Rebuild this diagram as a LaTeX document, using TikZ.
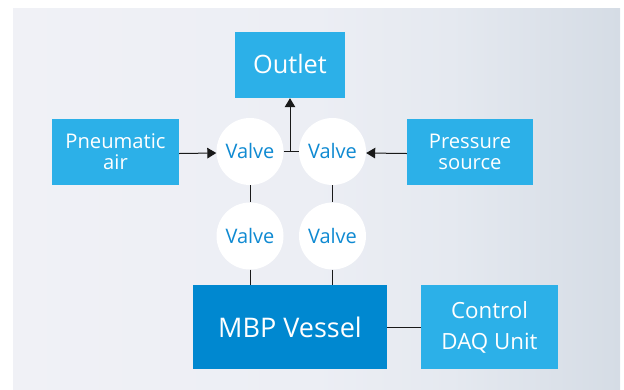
\documentclass[tikz,border=0pt]{standalone}
\usepackage{fontspec}
\setmainfont{Open Sans}
\definecolor{boxblue}{HTML}{2CB0E8}
\definecolor{deepblue}{HTML}{0088D0}
\definecolor{valvetext}{HTML}{0F8AD2}
\usetikzlibrary{arrows.meta}
\pgfdeclarehorizontalshading{panelshade}{100bp}{
  rgb(0bp)=(0.941,0.945,0.965);
  rgb(25bp)=(0.941,0.945,0.965);
  rgb(50bp)=(0.925,0.933,0.957);
  rgb(61bp)=(0.898,0.914,0.941);
  rgb(75bp)=(0.835,0.863,0.898);
  rgb(100bp)=(0.835,0.863,0.898)}
\tikzset{
  lightbox/.style={rectangle,fill=boxblue,text=white,inner sep=0pt,align=center},
  valvenode/.style={circle,fill=white,text=valvetext,minimum size=67pt,inner sep=0pt,font=\fontsize{20}{22}\selectfont},
  link/.style={line width=1pt,draw=black!90},
  flow/.style={link,-{Triangle[length=9pt,width=10.5pt]}}
}
\begin{document}
\begin{tikzpicture}[x=1pt,y=-1pt]
\useasboundingbox (0,0) rectangle (624,389);
\shade[shading=panelshade] (13,8) rectangle (620,389);
\node[lightbox,minimum width=110pt,minimum height=66pt,font=\fontsize{25.3}{29}\selectfont] (outlet) at (290,65) {\raisebox{1.5pt}{Outlet}};
\node[lightbox,minimum width=127pt,minimum height=66pt,font=\fontsize{20.2}{21}\selectfont] (pneu) at (115.5,152) {Pneumatic\\air};
\node[lightbox,minimum width=126pt,minimum height=66pt,font=\fontsize{20.2}{21}\selectfont] (press) at (470,152) {Pressure\\source};
\node[rectangle,fill=deepblue,text=white,inner sep=0pt,minimum width=194pt,minimum height=84pt,font=\fontsize{27}{32}\selectfont] (vessel) at (290,327) {MBP Vessel};
\node[lightbox,minimum width=137pt,minimum height=84pt,font=\fontsize{22.3}{31}\selectfont] (daq) at (489.5,327) {Control\\DAQ Unit};
\node[valvenode] (v1) at (250,151.5) {\raisebox{1pt}{Valve}};
\node[valvenode] (v2) at (332.5,151.5) {\raisebox{1pt}{Valve}};
\node[valvenode] (v3) at (250,236) {Valve};
\node[valvenode] (v4) at (332.5,236) {Valve};
\coordinate (junction) at (290,151.5);
\draw[link] (v1) -- (v2);
\draw[flow] (junction) -- (outlet);
\draw[flow] ([yshift=-1.5pt]pneu.east) -- ([yshift=-1.5pt]v1.west);
\draw[flow] ([yshift=-1.5pt]press.west) -- ([yshift=-1.5pt]v2.east);
\draw[link] (v1) -- (v3);
\draw[link] (v2) -- (v4);
\draw[link] (v3) -- (v3 |- vessel.north);
\draw[link] (v4) -- (v4 |- vessel.north);
\draw[link] (vessel) -- (daq);
\end{tikzpicture}
\end{document}
